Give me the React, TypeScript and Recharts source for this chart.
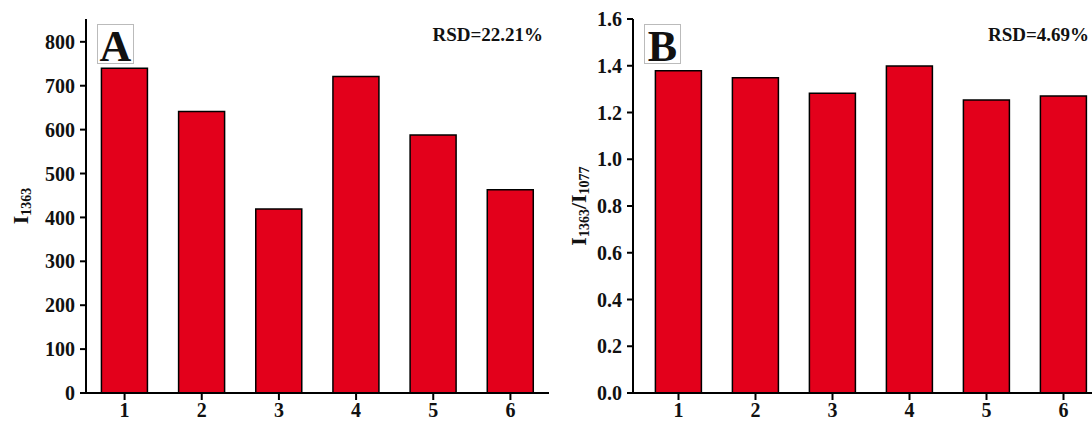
import React from 'react';
import { BarChart, Bar, XAxis, YAxis } from 'recharts';

const samples = ['1', '2', '3', '4', '5', '6'];
const intensity1363 = [740, 641, 419, 721, 588, 463];
const ratio1363to1077 = [1.379, 1.349, 1.282, 1.399, 1.253, 1.271];
const ticksA = [0, 100, 200, 300, 400, 500, 600, 700, 800];
const ticksB = [0, 0.2, 0.4, 0.6, 0.8, 1.0, 1.2, 1.4, 1.6];

const dataA = samples.map((s, i) => ({ s, v: intensity1363[i] }));
const dataB = samples.map((s, i) => ({ s, v: ratio1363to1077[i] }));

const FONT = '"Liberation Serif", "Times New Roman", serif';
const RED = '#e3001b';
const tickStyle = { fontFamily: FONT, fontWeight: 700, fontSize: 20, fill: '#111' };

function YLabel({ viewBox, parts, lx }: any) {
  const cx = lx;
  const cy = viewBox.y + viewBox.height / 2;
  return (
    <text
      x={cx}
      y={cy}
      transform={`rotate(-90, ${cx}, ${cy})`}
      textAnchor="middle"
      dominantBaseline="central"
      style={{ fontFamily: FONT, fontWeight: 700, fontSize: 22, fill: '#111' }}
    >
      {parts.map((p: any, i: number) =>
        p.sub ? (
          <tspan key={i} fontSize={14} dy={6}>{p.t}</tspan>
        ) : (
          <tspan key={i} dy={i > 0 ? -6 : 0}>{p.t}</tspan>
        )
      )}
    </text>
  );
}

function Panel({ data, domain, ticks, fmt, yParts, lx, left, width, yAxisWidth, padX, letter, rsd, rsdEnd }: any) {
  return (
    <div style={{ position: 'absolute', left, top: 0, width, height: 421 }}>
      <BarChart
        width={width}
        height={421}
        data={data}
        margin={{ top: 19, right: 11, bottom: 0, left: 0 }}
        barCategoryGap="20%"
      >
        <XAxis
          dataKey="s"
          height={28}
          tick={tickStyle}
          tickSize={7}
          tickMargin={3}
          tickLine={{ stroke: '#000', strokeWidth: 2 }}
          axisLine={{ stroke: '#000', strokeWidth: 2 }}
          padding={{ left: padX, right: padX }}
        />
        <XAxis xAxisId="top" dataKey="s" orientation="top" height={0} tick={false} tickLine={false}
          axisLine={{ stroke: '#000', strokeWidth: 2 }} />
        <YAxis
          width={yAxisWidth}
          domain={domain}
          ticks={ticks}
          allowDataOverflow
          tick={tickStyle}
          tickFormatter={fmt}
          tickSize={6}
          tickMargin={5}
          tickLine={{ stroke: '#000', strokeWidth: 2 }}
          axisLine={{ stroke: '#000', strokeWidth: 2 }}
          label={{ content: (p: any) => <YLabel {...p} parts={yParts} lx={lx} /> }}
        />
        <YAxis yAxisId="right" orientation="right" width={0} tick={false} tickLine={false}
          axisLine={{ stroke: '#000', strokeWidth: 2 }} />
        <Bar dataKey="v" fill={RED} stroke="#000" strokeWidth={1.5} isAnimationActive={false} />
      </BarChart>
      <div
        style={{
          position: 'absolute',
          left: yAxisWidth + 11,
          top: 24,
          width: 35,
          height: 38,
          border: '1px solid #bbb',
          fontFamily: FONT,
          fontWeight: 700,
          fontSize: 44,
          lineHeight: '44px',
          textAlign: 'center',
          color: '#111',
        }}
      >
        {letter}
      </div>
      <div
        style={{
          position: 'absolute',
          left: yAxisWidth + 200,
          width: rsdEnd - yAxisWidth - 200,
          top: 24,
          fontFamily: FONT,
          fontWeight: 700,
          fontSize: 19,
          textAlign: 'right',
          whiteSpace: 'nowrap',
          color: '#111',
        }}
      >
        {rsd}
      </div>
    </div>
  );
}

export default function App() {
  return (
    <div style={{ position: 'absolute', left: 0, top: 0, width: 1092, height: 421, overflow: 'hidden', background: '#fff' }}>
      <Panel
        data={dataA}
        domain={[0, 852]}
        ticks={ticksA}
        fmt={(v: number) => String(v)}
        yParts={[{ t: 'I' }, { t: '1363', sub: true }]}
        lx={20}
        left={0}
        width={560}
        yAxisWidth={86}
        padX={0}
        letter="A"
        rsd="RSD=22.21%"
        rsdEnd={543}
      />
      <Panel
        data={dataB}
        domain={[0, 1.6]}
        ticks={ticksB}
        fmt={(v: number) => v.toFixed(1)}
        yParts={[{ t: 'I' }, { t: '1363', sub: true }, { t: '/I' }, { t: '1077', sub: true }]}
        lx={18}
        left={560}
        width={560}
        yAxisWidth={73}
        padX={7}
        letter="B"
        rsd="RSD=4.69%"
        rsdEnd={529}
      />
    </div>
  );
}
